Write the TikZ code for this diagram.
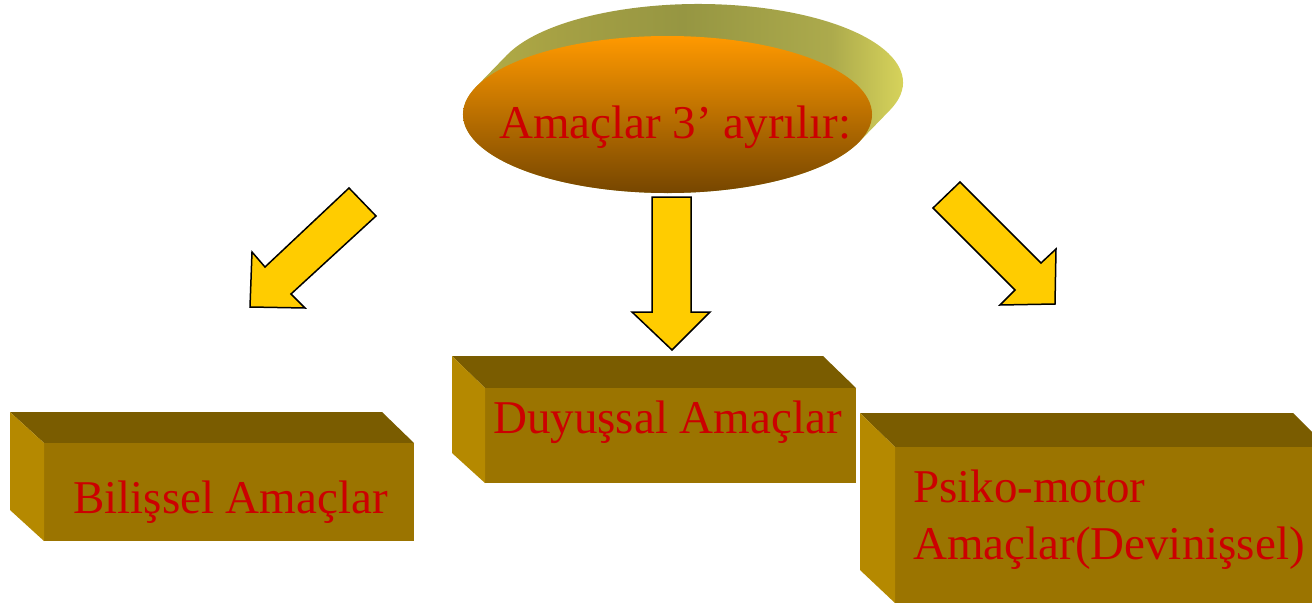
\documentclass[tikz,border=0pt]{standalone}
\usepackage{fontspec}
\setmainfont{Liberation Serif}
\usetikzlibrary{calc}
\definecolor{boxtop}{RGB}{122,92,0}
\definecolor{boxfront}{RGB}{155,116,0}
\definecolor{boxside}{RGB}{181,137,0}
\definecolor{arrowfill}{RGB}{255,204,0}
\definecolor{txtred}{RGB}{204,0,0}
\definecolor{elltop}{RGB}{255,153,0}
\definecolor{ellmid}{RGB}{214,125,0}
\definecolor{ellbot}{RGB}{118,70,0}
\definecolor{sweepa}{RGB}{185,178,70}
\definecolor{sweepb}{RGB}{165,160,68}
\definecolor{sweepc}{RGB}{150,150,66}
\definecolor{sweepd}{RGB}{172,170,76}
\definecolor{sweepe}{RGB}{230,226,96}
\pgfdeclarehorizontalshading{sweepshade}{100bp}{color(0bp)=(sweepa); color(25bp)=(sweepa); color(37.5bp)=(sweepb); color(50bp)=(sweepc); color(65bp)=(sweepd); color(75bp)=(sweepe); color(100bp)=(sweepe)}
\begin{document}
\begin{tikzpicture}[x=1pt,y=-1pt,
  lbl/.style={inner sep=0pt, anchor=base west, text=txtred, align=left,
    font=\fontsize{47}{57}\selectfont},
  blockarrow/.style={fill=arrowfill, draw=black, line width=1.5pt, line join=miter},
  topface/.style={fill=boxtop},
  frontface/.style={fill=boxfront},
  sideface/.style={fill=boxside}]
\useasboundingbox (0,0) rectangle (1312,605);
\clip (0,0) rectangle (1312,605);
% ---- extruded ellipse ----
\path[shading=sweepshade]
  (698.5,82.5) ++(200.4:204.5 and 78.5)
  arc[start angle=200.4, end angle=380.4, x radius=204.5, y radius=78.5]
  -- ($(667.5,114.5)+(20.4:204.5 and 78.5)$) coordinate (fr)
  arc[start angle=20.4, end angle=200.4, x radius=204.5, y radius=78.5]
  -- cycle;
\path[top color=elltop, middle color=ellmid, bottom color=ellbot]
  (667.5,114.5) ellipse[x radius=204.5, y radius=78.5];
\node[lbl] (main) at (499,138) {Amaçlar 3’ ayrılır:};
% ---- arrows ----
\draw[blockarrow] (349,188) -- (376,216) -- (291,294) -- (305,308) -- (250,307)
  -- (252,252) -- (265,267) -- cycle;
\draw[blockarrow] (652,197) -- (691,197) -- (691,312) -- (710,312) -- (672,350)
  -- (632,312) -- (652,312) -- cycle;
\draw[blockarrow] (960,182) -- (1041,263) -- (1056,249) -- (1055,304) -- (1000,305)
  -- (1015,290) -- (933,208) -- cycle;
% ---- left box ----
\path[topface] (10,412) -- (382,412) -- (414,443) -- (44,443) -- cycle;
\path[frontface] (44,443) rectangle (414,541);
\path[sideface] (10,412) -- (44,443) -- (44,541) -- (10,510) -- cycle;
\node[lbl] (bil) at (73,513) {Bilişsel Amaçlar};
% ---- middle box ----
\path[topface] (452,356) -- (823,356) -- (856,388) -- (485,388) -- cycle;
\path[frontface] (485,388) rectangle (856,483);
\path[sideface] (452,356) -- (485,388) -- (485,483) -- (452,453) -- cycle;
\node[lbl] (duy) at (493,433) {Duyuşsal Amaçlar};
% ---- right box ----
\path[topface] (860,413) -- (1293,413) -- (1327,447) -- (895,447) -- cycle;
\path[frontface] (895,447) rectangle (1327,603);
\path[sideface] (860,413) -- (895,447) -- (895,603) -- (860,570) -- cycle;
\node[lbl] (psi) at (913,559) {Psiko-motor\\Amaçlar(Devinişsel)};
\end{tikzpicture}
\end{document}
